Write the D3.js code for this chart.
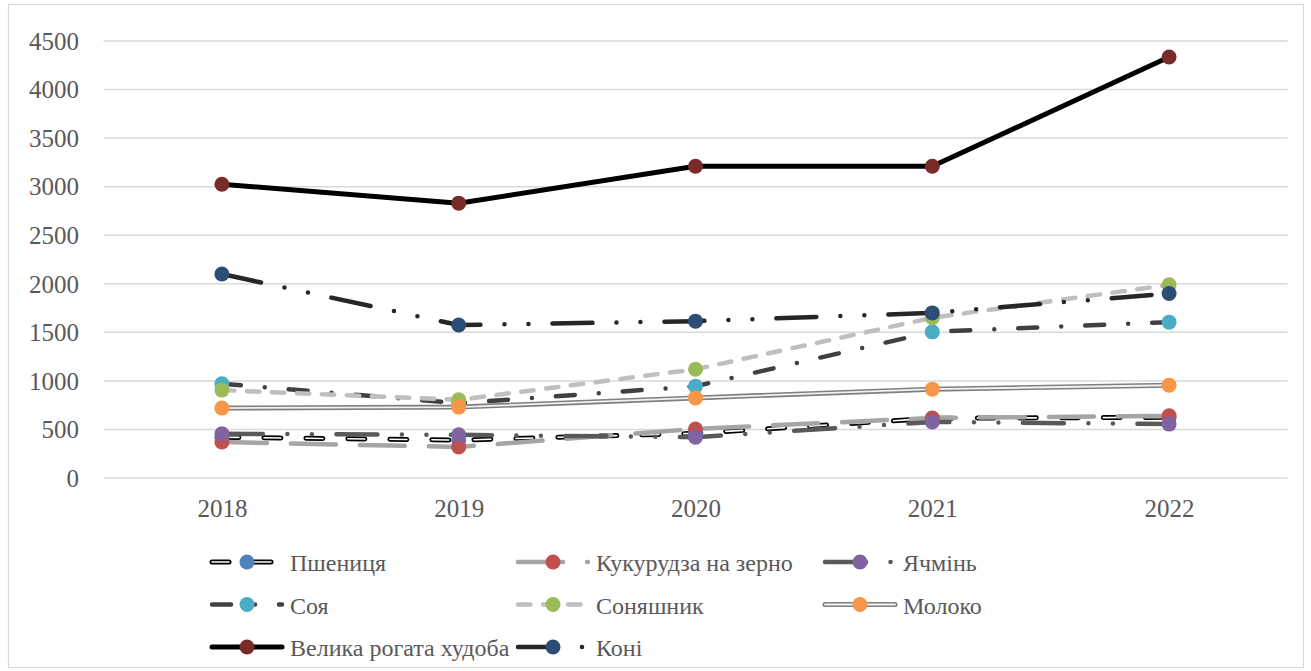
<!DOCTYPE html>
<html>
<head>
<meta charset="utf-8">
<script src="https://cdn.jsdelivr.net/npm/d3@7"></script>
<style>
  html, body { margin: 0; padding: 0; background: #ffffff; }
  svg { display: block; }
  svg text { font-family: "Liberation Serif", "DejaVu Serif", serif !important; fill: #595959; }
</style>
</head>
<body>
<svg id="chart" width="1311" height="671"></svg>
<script>
// Categories (years) and values for each series
const years = ["2018", "2019", "2020", "2021", "2022"];
const wheat     = [420, 390, 460, 615, 625];
const corn      = [370, 320, 505, 618, 640];
const barley    = [455, 445, 420, 577, 555];
const soy       = [970, 770, 945, 1505, 1605];
const sunflower = [905, 805, 1120, 1650, 1990];
const milk      = [720, 730, 825, 915, 955];
const cattle    = [3025, 2830, 3210, 3210, 4335];
const horses    = [2100, 1575, 1615, 1700, 1900];
const yTicks    = [0, 500, 1000, 1500, 2000, 2500, 3000, 3500, 4000, 4500];

const seriesNames = ["Пшениця", "Кукурудза на зерно", "Ячмінь", "Соя", "Соняшник", "Молоко", "Велика рогата худоба", "Коні"];

// Line and marker styling per series
const styles = [
  { line: "#000000", width: 5, dash: "17 25", inner: "#ffffff", innerWidth: 1.6, marker: "#4F81BD" },
  { line: "#A5A5A5", width: 4.5, dash: "45 24", marker: "#C0504D" },
  { line: "#595959", width: 4.5, dash: "41 24.5 0 24.5 0 24.5", marker: "#8064A2" },
  { line: "#404040", width: 4.5, dash: "19 24 0 24", marker: "#4BACC6" },
  { line: "#BFBFBF", width: 4.5, dash: "12.5 12.5", marker: "#9BBB59" },
  { line: "#7F7F7F", width: 5, dash: null, inner: "#f2f2f2", innerWidth: 1.8, marker: "#F79646" },
  { line: "#000000", width: 5, dash: null, marker: "#772C2A" },
  { line: "#262626", width: 4.5, dash: "40 24 0 24 0 24", marker: "#2C4D75" }
];

const seriesValues = [wheat, corn, barley, soy, sunflower, milk, cattle, horses];
const series = seriesNames.map((name, i) => ({ name, values: seriesValues[i], style: styles[i] }));

const svg = d3.select("#chart");

// Outer chart frame
svg.append("rect")
  .attr("x", 8.5).attr("y", 4.5)
  .attr("width", 1295).attr("height", 663)
  .attr("fill", "#ffffff")
  .attr("stroke", "#d9d9d9").attr("stroke-width", 1.2);

const plot = { left: 103.5, right: 1287.5, top: 41, bottom: 478 };

const x = d3.scalePoint().domain(years).range([plot.left, plot.right]).padding(0.5);
const y = d3.scaleLinear().domain([0, 4500]).range([plot.bottom, plot.top]);

// Horizontal gridlines
svg.append("g").selectAll("line")
  .data(yTicks).join("line")
  .attr("x1", plot.left).attr("x2", plot.right)
  .attr("y1", d => y(d)).attr("y2", d => y(d))
  .attr("stroke", "#d9d9d9").attr("stroke-width", 1.5);

const serif = "'Liberation Serif', 'DejaVu Serif', serif";

// Y axis labels
const yAxis = d3.axisLeft(y).tickValues(yTicks).tickSize(0).tickPadding(0).tickFormat(d3.format("d"));
const gy = svg.append("g").attr("transform", `translate(79,0)`).call(yAxis)
  .attr("font-family", serif);
gy.select(".domain").remove();
gy.selectAll("text")
  .style("font-family", serif).style("font-size", "25px")
  .attr("fill", "#595959")
  .attr("dy", "0.33em");

// X axis labels
const xAxis = d3.axisBottom(x).tickSize(0).tickPadding(0);
const gx = svg.append("g").attr("transform", `translate(0,${plot.bottom})`).call(xAxis)
  .attr("font-family", serif);
gx.select(".domain").remove();
gx.selectAll("text")
  .style("font-family", serif).style("font-size", "25px")
  .attr("fill", "#595959")
  .attr("y", 39).attr("dy", 0);

const line = d3.line().x((d, i) => x(years[i])).y(d => y(d));

function drawStroke(g, pathData, st) {
  g.append("path").attr("d", pathData)
    .attr("fill", "none").attr("stroke", st.line).attr("stroke-width", st.width)
    .attr("stroke-linecap", "round").attr("stroke-linejoin", "round")
    .attr("stroke-dasharray", st.dash);
  if (st.inner) {
    g.append("path").attr("d", pathData)
      .attr("fill", "none").attr("stroke", st.inner).attr("stroke-width", st.innerWidth)
      .attr("stroke-linecap", "round").attr("stroke-linejoin", "round")
      .attr("stroke-dasharray", st.dash);
  }
}

// Series lines
const linesG = svg.append("g");
series.forEach(s => drawStroke(linesG.append("g"), line(s.values), s.style));

// Series markers
const markersG = svg.append("g");
series.forEach(s => {
  markersG.append("g").selectAll("circle")
    .data(s.values).join("circle")
    .attr("cx", (d, i) => x(years[i])).attr("cy", d => y(d))
    .attr("r", 7.5).attr("fill", s.style.marker);
});

// Legend
const legendCols = [212, 518, 825];
const legendRows = [562, 604.5, 647];
const sampleLen = 70;
const legend = svg.append("g");
series.forEach((s, i) => {
  const cx = legendCols[i % 3];
  const cy = legendRows[Math.floor(i / 3)];
  const g = legend.append("g");
  drawStroke(g, `M${cx},${cy}L${cx + sampleLen},${cy}`, s.style);
  g.append("circle").attr("cx", cx + sampleLen / 2).attr("cy", cy).attr("r", 7.5).attr("fill", s.style.marker);
  g.append("text").attr("x", cx + 78).attr("y", cy + 9)
    .style("font-family", serif).style("font-size", "24px").text(s.name);
});
</script>
</body>
</html>
